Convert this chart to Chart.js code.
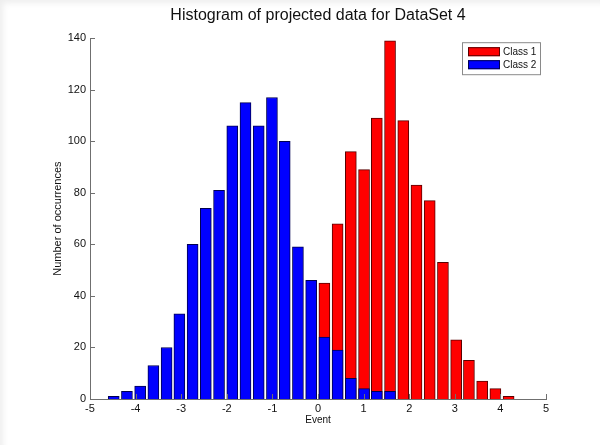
<!DOCTYPE html>
<html lang="en">
<head>
  <meta charset="UTF-8" />
  <title>Histogram of projected data for DataSet 4</title>
  <script src="https://cdn.jsdelivr.net/npm/chart.js"></script>
  <style>
    * {
      margin: 0;
      padding: 0;
      box-sizing: border-box;
    }
    body {
      background: #fff;
      width: 600px;
      height: 445px;
      overflow: hidden;
    }
    .frame {
      position: relative;
      width: 600px;
      height: 445px;
      box-shadow: inset 5px 5px 6px -2px rgba(0, 0, 0, 0.07);
    }
    canvas {
      display: block;
    }
  </style>
</head>
<body>
  <div class="frame">
    <canvas id="grafico" width="600" height="445"></canvas>
  </div>

  <script>
    // centros dos bins (eixo Event)
    const binCenters = [
      -4.48, -4.19, -3.90, -3.61, -3.32, -3.04, -2.75, -2.46, -2.17, -1.88,
      -1.59, -1.30, -1.01, -0.73, -0.44, -0.15, 0.14, 0.43, 0.72, 1.01,
      1.29, 1.58, 1.87, 2.16, 2.45, 2.74, 3.03, 3.31, 3.60, 3.89, 4.18
    ];
    // Class 2 ocupa os bins 0..21, Class 1 os bins 16..30
    const class2Counts = [1, 3, 5, 13, 20, 33, 60, 74, 81, 106, 115, 106, 117, 100, 59, 46, 24, 19, 8, 4, 3, 3];
    const class1Counts = [45, 68, 96, 89, 109, 139, 108, 83, 77, 53, 23, 15, 7, 4, 1];
    const class1Start = 16;
    const xTicks = [-5, -4, -3, -2, -1, 0, 1, 2, 3, 4, 5];
    const yTicks = [0, 20, 40, 60, 80, 100, 120, 140];

    const class2Data = class2Counts.map((v, i) => ({ x: binCenters[i], y: v }));
    const class1Data = class1Counts.map((v, i) => ({ x: binCenters[class1Start + i], y: v }));

    const fonte = 'Arial, "Liberation Sans", sans-serif';
    const corEixo = '#6f6f6f';

    // ticks para dentro + legenda com caixa, estilo matlab
    const extras = {
      id: 'extras',
      afterDraw(chart) {
        const { ctx, chartArea: a, scales: { x, y } } = chart;
        ctx.save();
        ctx.strokeStyle = corEixo;
        ctx.lineWidth = 1;
        ctx.beginPath();
        xTicks.forEach(t => {
          const px = Math.round(x.getPixelForValue(t)) + 0.5;
          ctx.moveTo(px, a.bottom);
          ctx.lineTo(px, a.bottom - 5);
        });
        yTicks.forEach(t => {
          const py = Math.round(y.getPixelForValue(t)) + 0.5;
          ctx.moveTo(a.left, py);
          ctx.lineTo(a.left + 5, py);
        });
        ctx.stroke();

        // legenda
        const w = 78, h = 32;
        const lx = a.right - 84, ly = a.top + 4;
        ctx.fillStyle = '#fff';
        ctx.fillRect(lx, ly, w, h);
        ctx.strokeStyle = '#8a8a8a';
        ctx.strokeRect(lx + 0.5, ly + 0.5, w, h);
        ctx.font = '10px ' + fonte;
        ctx.textBaseline = 'middle';
        chart.data.datasets.forEach((ds, i) => {
          const rowY = ly + 9 + i * 13;
          ctx.fillStyle = ds.backgroundColor;
          ctx.fillRect(lx + 6, rowY - 4, 32, 9);
          ctx.strokeStyle = ds.borderColor;
          ctx.strokeRect(lx + 6.5, rowY - 3.5, 31, 8);
          ctx.fillStyle = '#111';
          ctx.fillText(ds.label, lx + 41, rowY + 1);
        });
        ctx.restore();
      }
    };

    new Chart(document.getElementById('grafico'), {
      type: 'bar',
      data: {
        datasets: [
          {
            label: 'Class 1',
            data: class1Data,
            backgroundColor: '#ff0000',
            borderColor: '#5a0000',
            borderWidth: 1,
            order: 1,
          },
          {
            label: 'Class 2',
            data: class2Data,
            backgroundColor: '#0000ff',
            borderColor: '#000050',
            borderWidth: 1,
            order: 0,
          },
        ],
      },
      options: {
        responsive: false,
        animation: false,
        layout: { padding: { left: 0, right: 54, top: 0, bottom: 0 } },
        datasets: { bar: { grouped: false, barThickness: 11 } },
        plugins: {
          legend: { display: false },
          tooltip: { enabled: false },
          title: {
            display: true,
            fullSize: false,
            text: 'Histogram of projected data for DataSet 4',
            color: '#111',
            font: { family: fonte, size: 16, weight: 'normal' },
            padding: { top: 6, bottom: 13 },
          },
        },
        scales: {
          x: {
            type: 'linear',
            min: -5,
            max: 5,
            offset: false,
            afterBuildTicks(scale) {
              scale.ticks = xTicks.map(v => ({ value: v }));
            },
            afterFit(scale) {
              scale.height = 46;
            },
            grid: { display: false, drawTicks: false },
            border: { display: true, color: corEixo },
            ticks: {
              color: '#111',
              padding: 3,
              maxRotation: 0,
              autoSkip: false,
              font: { family: fonte, size: 11 },
            },
            title: {
              display: true,
              text: 'Event',
              color: '#111',
              font: { family: fonte, size: 10 },
              padding: { top: 0, bottom: 19 },
            },
          },
          y: {
            min: 0,
            max: 140,
            afterBuildTicks(scale) {
              scale.ticks = yTicks.map(v => ({ value: v }));
            },
            afterFit(scale) {
              scale.width = 90;
            },
            grid: { display: false, drawTicks: false },
            border: { display: true, color: corEixo },
            ticks: {
              color: '#111',
              padding: 4,
              font: { family: fonte, size: 11 },
            },
            title: {
              display: true,
              text: 'Number of occurrences',
              color: '#111',
              font: { family: fonte, size: 11 },
              padding: { top: 51, bottom: 0 },
            },
          },
        },
      },
      plugins: [extras],
    });
  </script>
</body>
</html>
